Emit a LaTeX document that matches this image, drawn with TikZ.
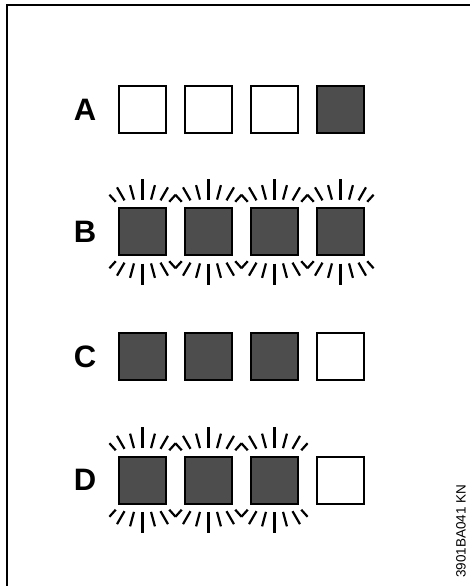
\documentclass[tikz,border=0pt]{standalone}
\usepackage{fontspec}
\setmainfont{Liberation Sans}
\definecolor{lamp}{HTML}{4D4D4D}
\tikzset{
  sq/.style={draw=black, line width=2pt, minimum size=47pt, inner sep=0pt, outer sep=0pt},
  on/.style={sq, fill=lamp},
  off/.style={sq, fill=white},
  lbl/.style={font=\bfseries\fontsize{31}{31}\selectfont, inner sep=0pt},
  ray/.style={line width=2.2pt},
  frame/.style={line width=2pt},
  code/.style={font=\fontsize{13.5}{13.5}\selectfont, inner sep=0pt, rotate=90}
}
\newcommand{\rays}[1]{%
  \begin{scope}[shift={(#1.center)}]
    \foreach \b in {90,270}{
      \draw[ray] (\b:32) -- (\b:53);
      \foreach \s in {-1,1}{
        \draw[ray] (\b+\s*15:33) -- (\b+\s*15:48);
        \draw[ray] (\b+\s*30:36) -- (\b+\s*30:51);
        \draw[ray] (\b+\s*42:40) -- (\b+\s*42:49.5);
      }
    }
  \end{scope}}
\begin{document}
\begin{tikzpicture}[x=1pt,y=-1pt]
\useasboundingbox (0,0) rectangle (470,586);
\draw[frame] (7,590) -- (7,5) -- (475,5);
% row A
\node[lbl] (lA) at (85,110) {A};
\node[off] (a1) at (142.5,109) {};
\node[off] (a2) at (208.5,109) {};
\node[off] (a3) at (274.5,109) {};
\node[on]  (a4) at (340.5,109) {};
% row B
\node[lbl] (lB) at (85,232) {B};
\node[on] (b1) at (142.5,231.5) {};
\node[on] (b2) at (208.5,231.5) {};
\node[on] (b3) at (274.5,231.5) {};
\node[on] (b4) at (340.5,231.5) {};
\rays{b1}\rays{b2}\rays{b3}\rays{b4}
% row C
\node[lbl] (lC) at (85,357) {C};
\node[on]  (c1) at (142.5,356.5) {};
\node[on]  (c2) at (208.5,356.5) {};
\node[on]  (c3) at (274.5,356.5) {};
\node[off] (c4) at (340.5,356.5) {};
% row D
\node[lbl] (lD) at (85,480) {D};
\node[on]  (d1) at (142.5,480) {};
\node[on]  (d2) at (208.5,480) {};
\node[on]  (d3) at (274.5,480) {};
\node[off] (d4) at (340.5,480) {};
\rays{d1}\rays{d2}\rays{d3}
% code
\node[code] (code) at (461,531) {3901BA041 KN};
\end{tikzpicture}
\end{document}
